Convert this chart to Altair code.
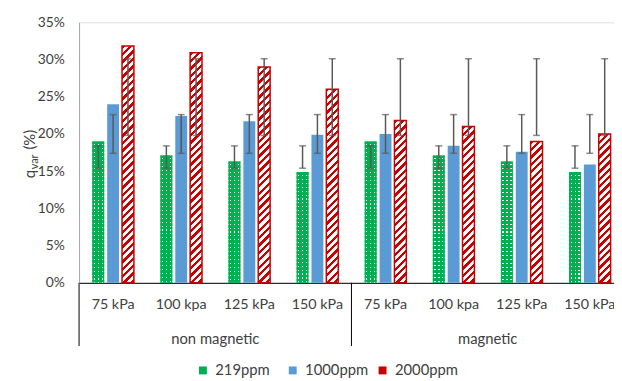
import altair as alt

# ---------------- data ----------------
groups = ["non magnetic", "magnetic"]
pressures = ["75 kPa", "100 kpa", "125 kPa", "150 kPa"]
series = ["219ppm", "1000ppm", "2000ppm"]

# bar values (%), order: non magnetic 75/100/125/150, magnetic 75/100/125/150
vals_219 = [19.0, 17.1, 16.3, 14.9, 19.0, 17.1, 16.3, 14.9]
vals_1000 = [24.0, 22.4, 21.7, 19.9, 20.0, 18.4, 17.6, 15.9]
vals_2000 = [31.8, 30.9, 29.0, 26.0, 21.8, 21.0, 19.0, 20.0]

# error bar ends (%)
lo_219 = [15.4, 15.4, 15.4, 15.4, 15.4, 15.4, 15.4, 15.4]
hi_219 = [18.4, 18.4, 18.4, 18.4, 18.4, 18.4, 18.4, 18.4]
lo_1000 = [17.4, 17.4, 17.4, 17.4, 17.4, 17.4, 17.4, 17.4]
hi_1000 = [22.6, 22.6, 22.6, 22.6, 22.6, 22.6, 22.6, 22.6]
lo_2000 = [19.8, 19.8, 19.8, 19.8, 19.8, 19.8, 19.8, 19.8]
hi_2000 = [30.1, 30.1, 30.1, 30.1, 30.1, 30.1, 30.1, 30.1]

y_ticks = [0, 5, 10, 15, 20, 25, 30, 35]

# ---------------- styling constants ----------------
GREEN = "#00B050"
BLUE = "#5B9BD5"
RED = "#C80000"
TXT = "#404040"
FONT = "Lato"

PLOT_W = 542
PLOT_H = 264
BAND = 69
Y_MAX = 35
OFF_PAD_IN = 0.2
OFF_PAD_OUT = 0.892
STEP = BAND / (3 - OFF_PAD_IN + 2 * OFF_PAD_OUT)
BAR_W = STEP * (1 - OFF_PAD_IN)
CLEAR = "rgba(255,255,255,0)"


def bar_px(v):
    return v / Y_MAX * PLOT_H


def red_stripes(h):
    # diagonal "/" stripes at 45 degrees in pixel space
    r = BAR_W / h
    C = 300.0
    s = C / (h * (1 + r * r))
    p = 7.5 / C
    stops = []
    k = 0
    while k * p < 1:
        a = k * p
        b = min(a + 0.45 * p, 1)
        c = min((k + 1) * p, 1)
        stops += [(a, RED), (b, RED), (b, "#ffffff"), (c, "#ffffff")]
        k += 1
    return {"gradient": "linear", "x1": 0, "y1": 0, "x2": r * s, "y2": s,
            "stops": [{"offset": o, "color": col} for o, col in stops]}


def green_rows(h):
    C = 300.0
    p = 4.0 / C
    stops = []
    k = 0
    while k * p < 1:
        a = k * p
        b = min(a + 2.9 / C, 1)
        c = min((k + 1) * p, 1)
        stops += [(a, GREEN), (b, GREEN), (b, CLEAR), (c, CLEAR)]
        k += 1
    return {"gradient": "linear", "x1": 0, "y1": 0, "x2": 0, "y2": C / h,
            "stops": [{"offset": o, "color": col} for o, col in stops]}


# white dot columns for the green bars
col_stops = []
for cx in [1.6, 5.6, 9.6]:
    a = cx / BAR_W
    b = (cx + 1.2) / BAR_W
    col_stops += [alt.GradientStop(color=CLEAR, offset=a),
                  alt.GradientStop(color="#ffffff", offset=a),
                  alt.GradientStop(color="#ffffff", offset=b),
                  alt.GradientStop(color=CLEAR, offset=b)]
col_grad = alt.LinearGradient(gradient="linear", x1=0, y1=0, x2=1, y2=0,
                              stops=[alt.GradientStop(color=CLEAR, offset=0)] + col_stops
                              + [alt.GradientStop(color=CLEAR, offset=1)])

cats = [f"{g}|{p}" for g in groups for p in pressures]

records = []
for i, cat in enumerate(cats):
    for s, vals, lo, hi in zip(series,
                               [vals_219, vals_1000, vals_2000],
                               [lo_219, lo_1000, lo_2000],
                               [hi_219, hi_1000, hi_2000]):
        rec = {"cat": cat, "series": s, "v": vals[i] / 100,
               "lo": lo[i] / 100, "hi": hi[i] / 100}
        h = bar_px(vals[i])
        if s == "219ppm":
            rec["pat"] = green_rows(h)
        elif s == "2000ppm":
            rec["pat"] = red_stripes(h)
        records.append(rec)

data = alt.Data(values=records)
group_data = alt.Data(values=[{"cat": f"{g}|{pressures[1]}", "label": g} for g in groups])
sep_data = alt.Data(values=[{"cat": f"{g}|{pressures[0]}"} for g in groups])
one = alt.Data(values=[{"k": 0}])

# ---------------- encodings ----------------
x_scale = alt.Scale(domain=cats, range=[0, BAND * len(cats)], paddingInner=0, paddingOuter=0)
x_axis = alt.Axis(title=None, labelExpr="split(datum.label, '|')[1]", ticks=False, tickSize=0,
                  labelPadding=22, labelBaseline="middle", labelAngle=0, labelFontSize=14.5,
                  labelColor=TXT, labelFont=FONT, domainColor="#000000", domainWidth=1,
                  labelOverlap=False)
y_scale = alt.Scale(domain=[0, Y_MAX / 100], nice=False, zero=True)
y_axis = alt.Axis(title=None, values=[t / 100 for t in y_ticks], format=".0%", grid=False,
                  ticks=False, tickSize=0, labelPadding=15, labelFontSize=14, labelColor=TXT,
                  labelFont=FONT, domainColor="#A6A6A6", domainWidth=1)

X = alt.X("cat:N", scale=x_scale, axis=x_axis)
XO = alt.XOffset("series:N", scale=alt.Scale(domain=series, paddingInner=OFF_PAD_IN,
                                             paddingOuter=OFF_PAD_OUT))


def Y(field):
    return alt.Y(f"{field}:Q", scale=y_scale, axis=y_axis)


base = alt.Chart(data).mark_bar().encode(
    x=X, xOffset=XO, y=Y("v"),
    color=alt.Color("series:N",
                    scale=alt.Scale(domain=series, range=[GREEN, BLUE, RED]),
                    legend=alt.Legend(orient="none", legendX=118, legendY=345,
                                      direction="horizontal", title=None, columns=3,
                                      symbolType="square", symbolSize=64,
                                      symbolStrokeWidth=0, labelFontSize=15,
                                      labelFont=FONT, labelColor=TXT, labelOffset=5,
                                      gridAlign="all", columnPadding=7, padding=0)),
)

green_cols = alt.Chart(data).transform_filter(alt.datum.series == "219ppm").mark_bar(
    fill=col_grad).encode(x=X, xOffset=XO, y=Y("v"))

green_dots = alt.Chart(data).transform_filter(alt.datum.series == "219ppm").mark_bar().encode(
    x=X, xOffset=XO, y=Y("v"), fill=alt.Fill("pat:N", scale=None))

red_bars = alt.Chart(data).transform_filter(alt.datum.series == "2000ppm").mark_bar(
    stroke=RED, strokeWidth=1.5).encode(
    x=X, xOffset=XO, y=Y("v"), fill=alt.Fill("pat:N", scale=None))

err = alt.Chart(data).mark_rule(color="#595959", strokeWidth=1.5).encode(
    x=X, xOffset=XO, y=Y("lo"), y2="hi:Q")
cap_lo = alt.Chart(data).mark_tick(color="#595959", size=7, thickness=1.5).encode(
    x=X, xOffset=XO, y=Y("lo"))
cap_hi = alt.Chart(data).mark_tick(color="#595959", size=7, thickness=1.5).encode(
    x=X, xOffset=XO, y=Y("hi"))

seps = alt.Chart(sep_data).mark_rule(color="#000000", strokeWidth=1).encode(
    x=alt.X("cat:N", scale=x_scale, axis=x_axis, bandPosition=0),
    y=alt.value(PLOT_H), y2=alt.value(PLOT_H + 64))

group_labels = alt.Chart(group_data).mark_text(
    fontSize=15, font=FONT, color=TXT, baseline="middle", align="center").encode(
    x=alt.X("cat:N", scale=x_scale, axis=x_axis, bandPosition=1),
    y=alt.value(PLOT_H + 57), text="label:N")

# y-axis title "q_var (%)" with subscript
t_q = alt.Chart(one).mark_text(text="q", angle=270, align="left", baseline="alphabetic",
                               fontSize=15, font=FONT, color=TXT).encode(
    x=alt.value(-45), y=alt.value(158))
t_var = alt.Chart(one).mark_text(text="var", angle=270, align="left", baseline="alphabetic",
                                 fontSize=11, font=FONT, color=TXT).encode(
    x=alt.value(-42), y=alt.value(149))
t_pct = alt.Chart(one).mark_text(text="(%)", angle=270, align="left", baseline="alphabetic",
                                 fontSize=15, font=FONT, color=TXT).encode(
    x=alt.value(-45), y=alt.value(129))

chart = alt.layer(
    base, green_cols, green_dots, red_bars, err, cap_lo, cap_hi, seps, group_labels,
    t_q, t_var, t_pct
).properties(
    width=PLOT_W, height=PLOT_H,
    autosize=alt.AutoSizeParams(type="none"),
    padding={"left": 72, "top": 12, "right": 0, "bottom": 97},
).configure_view(stroke=None).configure(font=FONT, background="white")

chart.save("out.html", embed_options={"renderer": "svg", "actions": False})
